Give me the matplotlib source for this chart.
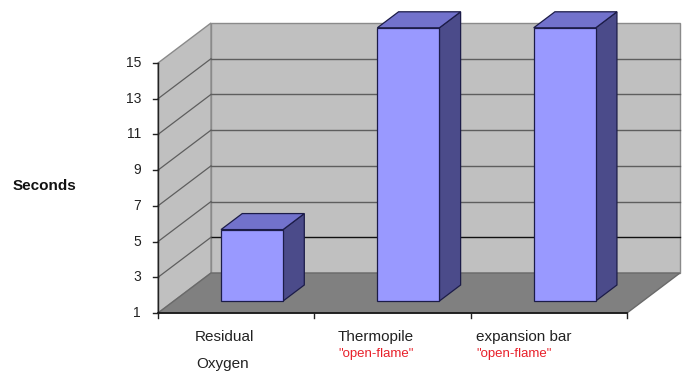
import matplotlib
matplotlib.use("Agg")
import matplotlib.pyplot as plt
from matplotlib.patches import Polygon

# chart data
categories = ["Residual", "Thermopile", "expansion bar"]
second_lines = ["Oxygen", "", ""]
subtitles = ["", "\"open-flame\"", "\"open-flame\""]
values = [5.0, 16.3, 16.3]
y_ticks = [1, 3, 5, 7, 9, 11, 13, 15]

Y_MIN, Y_MAX = 1, 15

# layout in data units (x = category slots, y = seconds)
DX, DY = 0.339, 2.24          # full depth offset of the box
BAR_W = 0.397
BAR_D0, BAR_D1 = 0.30, 0.70   # bar sits in the middle of the floor depth
LABEL_X = [0.237, 1.152, 2.035]

WALL = "#c0c0c0"
FLOOR = "#808080"
GRID = "#5e5e5e"
FRONT = "#9999ff"
TOP = "#7272cc"
SIDE = "#4b4b8a"
EDGE = "#1c1c48"

plt.rcParams["font.family"] = ["Liberation Sans", "DejaVu Sans"]

fig = plt.figure(figsize=(6.84, 3.73), dpi=100)
ax = fig.add_axes([0, 0, 1, 1])
ax.set_xlim(-1.0107, 3.3647)
ax.set_ylim(-2.36, 18.528)
ax.axis("off")

n = len(categories)


def proj(x, v, d):
    return (x + d * DX, v + d * DY)


def poly(pts, fc, ec, lw=0.8, z=1):
    ax.add_patch(Polygon(pts, closed=True, facecolor=fc, edgecolor=ec,
                         linewidth=lw, zorder=z))


# back wall, side wall, floor
poly([proj(0, Y_MIN, 1), proj(n, Y_MIN, 1), proj(n, Y_MAX, 1), proj(0, Y_MAX, 1)],
     WALL, "#8a8a8a", 1.0, 1)
poly([proj(0, Y_MIN, 0), proj(0, Y_MIN, 1), proj(0, Y_MAX, 1), proj(0, Y_MAX, 0)],
     WALL, "#8a8a8a", 1.0, 1)

# gridlines on the walls
for v in y_ticks[1:-1]:
    c = "#111111" if v == 3 else GRID
    x0, y0 = proj(0, v, 1)
    x1, y1 = proj(n, v, 1)
    ax.plot([x0, x1], [y0, y1], color=c, lw=1.0, zorder=2)
    xa, ya = proj(0, v, 0)
    ax.plot([xa, x0], [ya, y0], color=GRID, lw=0.9, zorder=2)

poly([proj(0, Y_MIN, 0), proj(n, Y_MIN, 0), proj(n, Y_MIN, 1), proj(0, Y_MIN, 1)],
     FLOOR, "#6a6a6a", 1.0, 3)

# axis lines and ticks
ax.plot([0, 0], [Y_MIN, Y_MAX], color="#222222", lw=1.0, zorder=4)
ax.plot([0, n], [Y_MIN, Y_MIN], color="#111111", lw=1.2, zorder=4)
for v in y_ticks:
    ax.plot([-0.032, 0], [v, v], color="#222222", lw=1.0, zorder=4)
    ax.text(-0.109, v, str(v), ha="right", va="center", fontsize=10,
            color="#222222", zorder=5)
for i in range(n + 1):
    ax.plot([i, i], [Y_MIN, Y_MIN - 0.28], color="#222222", lw=1.0, zorder=4)

# bars: side, top, then front face
for i, val in enumerate(values):
    xl = i + 0.5 - BAR_W / 2
    xr = i + 0.5 + BAR_W / 2
    poly([proj(xr, Y_MIN, BAR_D0), proj(xr, Y_MIN, BAR_D1),
          proj(xr, val, BAR_D1), proj(xr, val, BAR_D0)], SIDE, EDGE, 0.9, 6)
    poly([proj(xl, val, BAR_D0), proj(xr, val, BAR_D0),
          proj(xr, val, BAR_D1), proj(xl, val, BAR_D1)], TOP, EDGE, 0.9, 6)
    poly([proj(xl, Y_MIN, BAR_D0), proj(xr, Y_MIN, BAR_D0),
          proj(xr, val, BAR_D0), proj(xl, val, BAR_D0)], FRONT, EDGE, 0.9, 7)

# category labels
for i, lab in enumerate(categories):
    ax.text(LABEL_X[i], -0.57, lab, ha="left", va="baseline", fontsize=11,
            color="#222222")
    if second_lines[i]:
        ax.text(LABEL_X[i] + 0.01, -2.08, second_lines[i], ha="left",
                va="baseline", fontsize=11, color="#222222")
    if subtitles[i]:
        ax.text(LABEL_X[i], -1.46, subtitles[i], ha="left", va="baseline",
                fontsize=9.5, color="#e8202a")

ax.text(-0.729, 8.1, "Seconds", ha="center", va="center", fontsize=11,
        fontweight="bold", color="#111111")

fig.savefig("out.png", dpi=100)
